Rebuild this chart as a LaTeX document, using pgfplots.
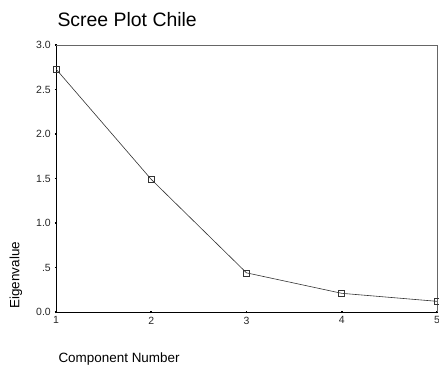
\documentclass[border=0pt]{standalone}
\usepackage{fontspec}
\setmainfont{Liberation Sans}
\usepackage{pgfplots}
\pgfplotsset{compat=1.18}
\begin{document}
\begin{tikzpicture}[x=1bp,y=1bp]
\path[use as bounding box] (0,0) rectangle (439,369);
\begin{axis}[
  at={(56bp,57bp)}, anchor=south west,
  scale only axis, width=381bp, height=267bp,
  xmin=1, xmax=5, ymin=0, ymax=3,
  axis x line*=bottom, axis y line*=left,
  axis line style={black, line width=0.9bp, -},
  xtick={1,2,3,4,5},
  ytick={0,0.5,1,1.5,2,2.5,3},
  yticklabels={0.0,.5,1.0,1.5,2.0,2.5,3.0},
  tick align=center,
  major tick length=2.5bp,
  tick style={black, line width=1.6bp},
  ticklabel style={font=\fontsize{10.5}{11}\selectfont, text=black!85},
  yticklabel style={xshift=-0.5bp},
  xticklabel style={yshift=0bp},
  /pgf/number format/assume math mode=true,
  clip=false,
  title={Scree Plot Chile},
  title style={font=\fontsize{19.5}{21}\selectfont, at={(rel axis cs:0,1)}, anchor=west, yshift=19bp, xshift=-2bp},
  xlabel={Component Number},
  xlabel style={font=\fontsize{13.5}{14}\selectfont, at={(rel axis cs:0,0)}, anchor=west, yshift=-47bp, xshift=-1bp},
  ylabel={Eigenvalue},
  ylabel style={font=\fontsize{13.5}{14}\selectfont, at={(rel axis cs:-0.105,0)}, anchor=west, rotate=0},
]
\draw[gray!80!black, line width=0.9bp] (rel axis cs:0,1) -- (rel axis cs:1,1) -- (rel axis cs:1,0);
\addplot[gray!40!black, line width=0.6bp, mark=square, mark size=3bp, mark options={line width=0.6bp, fill=white}]
 coordinates {(1,2.73) (2,1.49) (3,0.44) (4,0.21) (5,0.12)};
\end{axis}
\end{tikzpicture}
\end{document}
